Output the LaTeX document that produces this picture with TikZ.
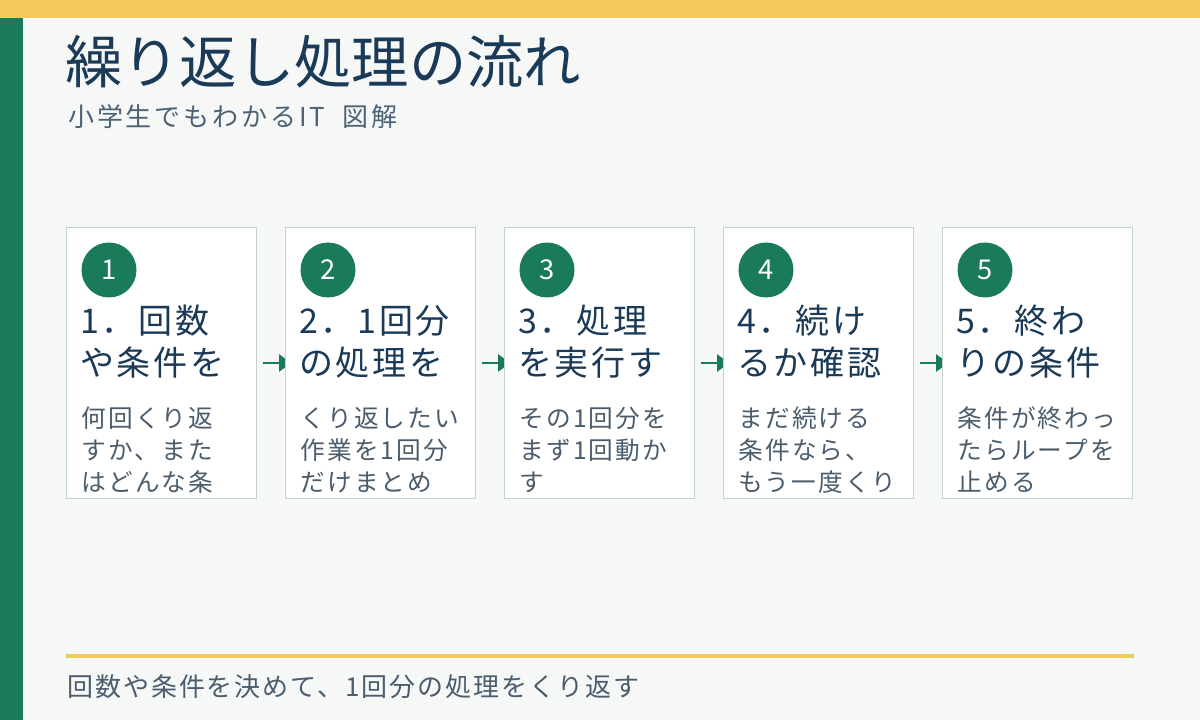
\documentclass[tikz,border=0pt]{standalone}
\usepackage{fontspec}
\setmainfont{Noto Sans CJK JP}
\newfontfamily\jptitle{Noto Sans CJK JP}
\newfontfamily\jpsub[LetterSpace=11]{Noto Sans CJK JP}
\newfontfamily\jpfoot[LetterSpace=7.5]{Noto Sans CJK JP}
\newfontfamily\jphead[LetterSpace=8]{Noto Sans CJK JP}
\newfontfamily\jpbody[LetterSpace=9]{Noto Sans CJK JP}
\usetikzlibrary{arrows.meta}
\pgfdeclarelayer{bg}
\pgfsetlayers{bg,main}
\definecolor{bgc}{HTML}{F6F8F8}
\definecolor{accentyellow}{HTML}{F4C95D}
\definecolor{gbar}{HTML}{1A7A5C}
\definecolor{navy}{HTML}{1B3A57}
\definecolor{subc}{HTML}{4D6274}
\definecolor{bodyc}{HTML}{4B5D6D}
\definecolor{cardline}{HTML}{C3D3CE}
\newcommand\pxfont[2]{\fontsize{#1}{#2}\selectfont}
\tikzset{
  card/.style={draw=cardline, line width=0.75pt, fill=white, rectangle,
    minimum width=142.5pt, minimum height=202.5pt, inner sep=0pt},
  numdot/.style={circle, fill=gbar, minimum size=41.25pt, inner sep=0pt,
    text=white, font=\jptitle\pxfont{20.5}{20.5}},
  headtxt/.style={anchor=base west, inner sep=0pt, align=left, text=navy,
    font=\jphead\pxfont{25.5}{31.5}},
  bodytxt/.style={anchor=base west, inner sep=0pt, align=left, text=bodyc,
    font=\jpbody\pxfont{18.5}{24}},
  flow/.style={draw=gbar, line width=1.5pt, -{Triangle[length=9pt,width=12.75pt]}},
}
\begin{document}
\begin{tikzpicture}[x=0.75pt, y=-0.75pt]
\useasboundingbox (0,0) rectangle (1200,720);
\begin{pgfonlayer}{bg}
\fill[bgc] (0,0) rectangle (1200,720);
\end{pgfonlayer}
\fill[accentyellow] (0,0) rectangle (1200,18);
\fill[gbar] (0,18) rectangle (23,720);
% title
\node[anchor=base west, inner sep=0pt, text=navy, font=\jptitle\pxfont{43}{43}] (title) at (65,84) {繰り返し処理の流れ};
\node[anchor=base west, inner sep=0pt, text=subc, font=\jpsub\pxfont{19.5}{19.5}] (sub) at (68,127) {小学生でもわかるIT\ \ 図解};
% cards
\foreach \i/\cx/\ha/\hb/\ba/\bb/\bc in {
  1/161/1．回数/や条件を/何回くり返/すか、また/はどんな条,
  2/380/2．1回分/の処理を/くり返したい/作業を1回分/だけまとめ,
  3/599/3．処理/を実行す/その1回分を/まず1回動か/す,
  4/818/4．続け/るか確認/まだ続ける/条件なら、/もう一度くり,
  5/1037/5．終わ/りの条件/条件が終わっ/たらループを/止める}{
  \node[card] (c\i) at (\cx,363) {};
  \node[numdot] (n\i) at (\cx-52,270) {\i};
  \node[headtxt] (h\i) at (\cx-81,375) {\ha\\\hb};
  \node[bodytxt] (b\i) at (\cx-80,491) {\ba\\\bb\\\bc};
}
% arrows (under the cards)
\begin{pgfonlayer}{bg}
\foreach \a/\b in {1/2,2/3,3/4,4/5}{
  \draw[flow] ([xshift=4.5pt]c\a.east) -- ([xshift=5pt]c\b.west);
}
\end{pgfonlayer}
% footer
\coordinate (fl) at (66,656);
\coordinate (fr) at (1134,656);
\draw[accentyellow, line width=3pt] (fl) -- (fr);
\node[anchor=base west, inner sep=0pt, text=bodyc, font=\jpfoot\pxfont{19.5}{19.5}] (foot) at (67,696) {回数や条件を決めて、1回分の処理をくり返す};
\end{tikzpicture}
\end{document}
